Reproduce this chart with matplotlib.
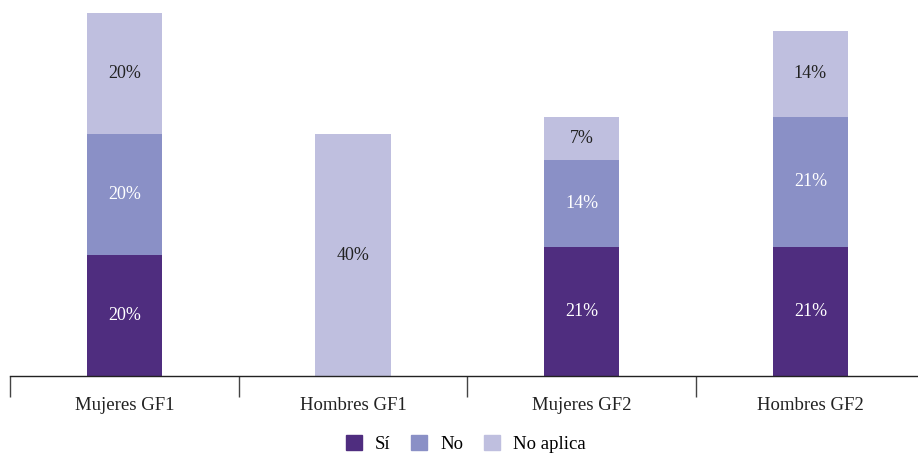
import matplotlib.pyplot as plt
from matplotlib.patches import Patch

plt.rcParams['font.family'] = ['Liberation Serif', 'DejaVu Serif']

categories = ["Mujeres GF1", "Hombres GF1", "Mujeres GF2", "Hombres GF2"]
si = [20.0, 0.0, 21.4, 21.4]
no = [20.0, 0.0, 14.3, 21.4]
no_aplica = [20.0, 40.0, 7.1, 14.3]

series = [("Sí", si, "#4f2d7f", "white"),
          ("No", no, "#8a90c6", "white"),
          ("No aplica", no_aplica, "#bfbfdf", "#222222")]

W, H = 918, 454
fig = plt.figure(figsize=(W / 100, H / 100), dpi=100)
ax = fig.add_axes([10 / W, 78 / H, 908 / W, 376 / H])

x = range(len(categories))
bottom = [0.0] * len(categories)
for name, vals, color, txt in series:
    ax.bar(x, vals, width=0.33, bottom=bottom, color=color, label=name)
    for i, v in enumerate(vals):
        if v > 0:
            ax.text(i, bottom[i] + v / 2, f"{v:.0f}%", ha="center", va="center",
                    color=txt, fontsize=13)
    bottom = [b + v for b, v in zip(bottom, vals)]

ax.set_xlim(-0.5, -0.5 + 908 / 228.7)
ax.set_ylim(0, 376 / 6.05)
ax.set_yticks([])
ax.set_xticks(list(x))
ax.set_xticklabels(categories, fontsize=13.5, color="#222222")
ax.tick_params(axis="x", which="major", length=0, pad=15)
ax.set_xticks([-0.5, 0.5, 1.5, 2.5], minor=True)
ax.tick_params(axis="x", which="minor", length=15, width=1, color="#444444")
for s in ["top", "right", "left"]:
    ax.spines[s].set_visible(False)
ax.spines["bottom"].set_color("#222222")
ax.spines["bottom"].set_linewidth(1)

handles = [Patch(color=c, label=n) for n, _, c, _ in series]
fig.legend(handles=handles, loc="center", bbox_to_anchor=(466 / W, 1 - 444 / H),
           ncol=3, frameon=False, fontsize=13.5, handlelength=0.85, handleheight=0.85,
           handletextpad=0.7, columnspacing=1.1)

fig.savefig("out.png", dpi=100)
